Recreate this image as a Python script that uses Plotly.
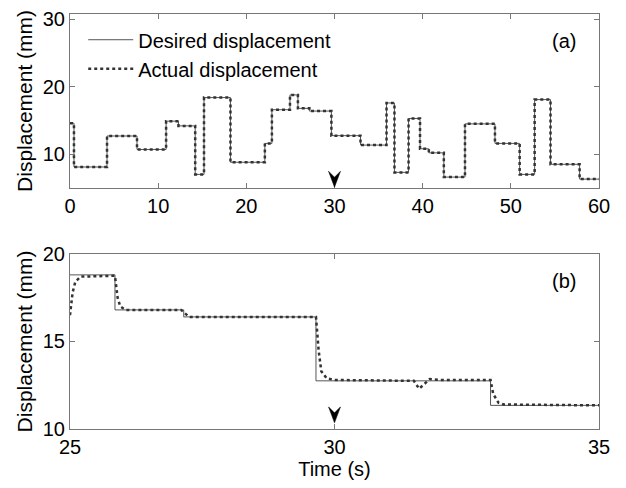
import plotly.graph_objects as go

# Desired displacement: step changes (time of step, value held after)
step_t = [0, 0.45, 4.2, 7.6, 10.9, 12.3, 14.2, 15.2, 18.2, 22.1, 22.9, 24.95,
          25.85, 27.15, 29.65, 32.95, 35.9, 36.8, 38.4, 39.7, 40.7, 42.4,
          44.8, 48.2, 51.0, 52.7, 54.5, 57.8, 60.0]
step_v = [14.6, 8.1, 12.7, 10.7, 14.9, 14.2, 7.0, 18.4, 8.8, 11.6, 16.6, 18.8,
          16.8, 16.4, 12.75, 11.35, 17.6, 7.3, 15.3, 10.8, 10.2, 6.6,
          14.5, 11.6, 7.0, 18.1, 8.5, 6.3, 6.3]

# Actual displacement in panel (a) (tracks desired closely at this scale)
act_a_t = step_t
act_a_v = step_v

# Actual displacement detail, panel (b)
act_b_t = [25.0, 25.05, 25.1, 25.2, 25.85, 25.9, 25.95, 26.05, 27.1, 27.25,
           29.65, 29.7, 29.75, 29.85, 30.0, 31.5, 31.6, 31.7, 31.8, 32.0,
           32.95, 33.0, 33.1, 33.2, 35.0]
act_b_v = [16.5, 17.8, 18.4, 18.7, 18.75, 17.5, 17.0, 16.8, 16.8, 16.4,
           16.4, 14.5, 13.3, 12.9, 12.8, 12.75, 12.3, 12.6, 12.85, 12.8,
           12.8, 12.0, 11.5, 11.4, 11.35]

# Arrow marker (time, tip value) in each panel
marker_t = 30
marker_a = 5.1
marker_b = 10.35

FONT = "Liberation Sans, Arial, sans-serif"
AX = "#777777"
ARROW_PATH = "M0,0 L-6,16 L0,10 L6,16 Z"

fig = go.Figure()
fig.add_trace(go.Scatter(x=step_t, y=step_v, mode="lines", line_shape="hv",
                         line=dict(color="#555555", width=1),
                         name="Desired displacement", xaxis="x", yaxis="y"))
fig.add_trace(go.Scatter(x=act_a_t, y=act_a_v, mode="lines", line_shape="hv",
                         line=dict(color="#333333", width=2.5, dash="dot"),
                         name="Actual displacement", xaxis="x", yaxis="y"))
fig.add_trace(go.Scatter(x=step_t, y=step_v, mode="lines", line_shape="hv",
                         line=dict(color="#555555", width=1),
                         showlegend=False, xaxis="x2", yaxis="y2"))
fig.add_trace(go.Scatter(x=act_b_t, y=act_b_v, mode="lines",
                         line=dict(color="#333333", width=2.5, dash="dot"),
                         showlegend=False, xaxis="x2", yaxis="y2"))

shapes = []
for xr, yr, yv in [("x", "y", marker_a), ("x2", "y2", marker_b)]:
    shapes.append(dict(type="path", xref=xr, yref=yr, xsizemode="pixel",
                       ysizemode="pixel", xanchor=marker_t, yanchor=yv,
                       path=ARROW_PATH, fillcolor="black",
                       line=dict(color="black", width=0.5)))

axcommon = dict(showline=True, linecolor=AX, linewidth=1.2, mirror="ticks",
                ticks="inside", ticklen=5, tickcolor=AX, showgrid=False,
                zeroline=False, automargin=False,
                tickfont=dict(size=20, color="black", family=FONT))

fig.update_layout(
    width=626, height=488,
    margin=dict(l=70, r=27, t=14, b=59),
    plot_bgcolor="white", paper_bgcolor="white",
    font=dict(family=FONT, size=20, color="black"),
    xaxis=dict(domain=[0, 1], anchor="y", range=[0, 60],
               tickvals=[0, 10, 20, 30, 40, 50, 60], **axcommon),
    yaxis=dict(domain=[0.581, 1], anchor="x", range=[5, 30.8],
               tickvals=[10, 20, 30],
               title=dict(text="Displacement (mm)", font=dict(size=21), standoff=4),
               **axcommon),
    xaxis2=dict(domain=[0, 1], anchor="y2", range=[25, 35],
                tickvals=[25, 30, 35],
                title=dict(text="Time (s)", font=dict(size=20), standoff=0),
                **axcommon),
    yaxis2=dict(domain=[0, 0.422], anchor="x2", range=[10, 20],
                tickvals=[10, 15, 20],
                title=dict(text="Displacement (mm)", font=dict(size=21), standoff=4),
                **axcommon),
    legend=dict(x=0.025, y=0.985, xanchor="left", yanchor="top",
                bgcolor="rgba(0,0,0,0)", font=dict(size=20),
                tracegroupgap=0, itemwidth=45),
    showlegend=True,
    shapes=shapes,
    annotations=[
        dict(text="(a)", xref="x domain", yref="y domain", x=0.96, y=0.92,
             xanchor="right", yanchor="top", showarrow=False, font=dict(size=20)),
        dict(text="(b)", xref="x2 domain", yref="y2 domain", x=0.96, y=0.92,
             xanchor="right", yanchor="top", showarrow=False, font=dict(size=20)),
    ],
)

fig.write_html("out.html")
